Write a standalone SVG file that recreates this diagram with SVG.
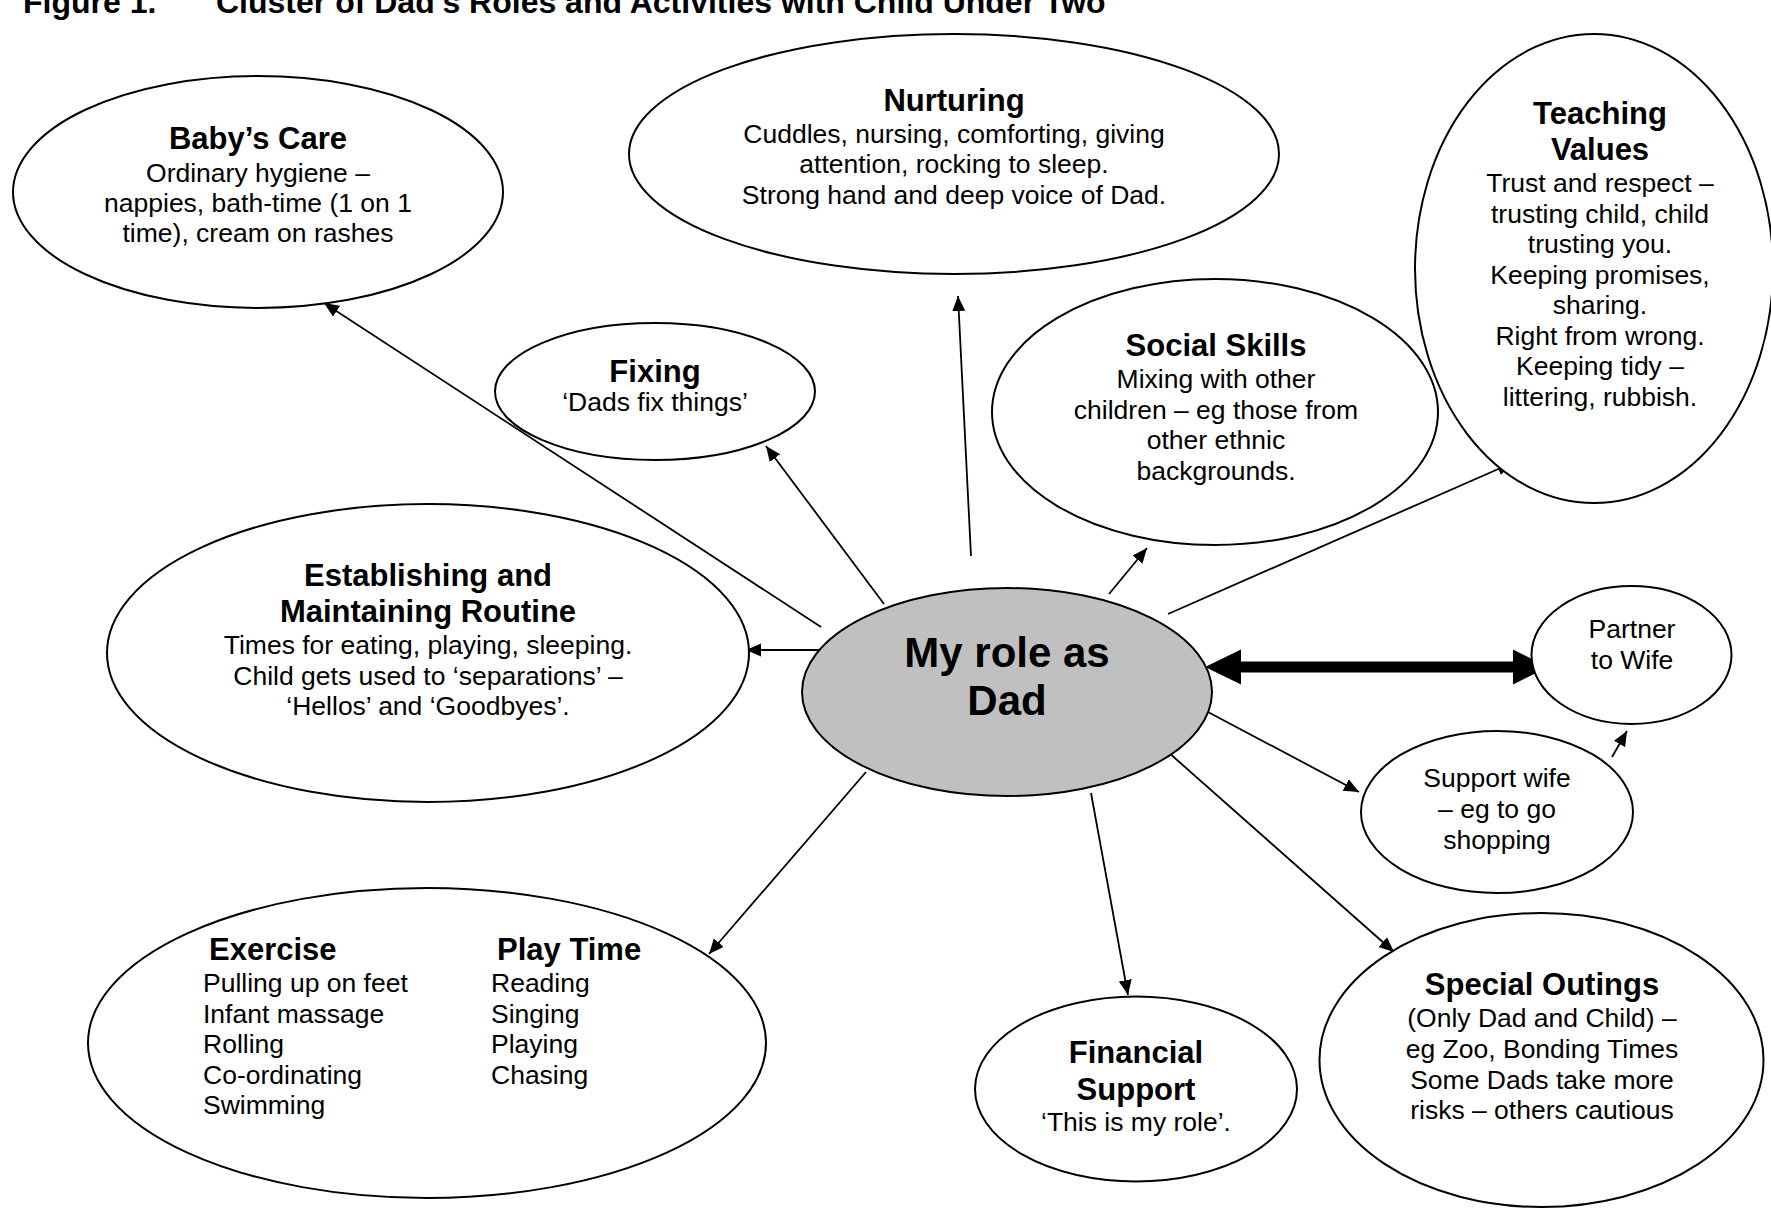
<svg xmlns="http://www.w3.org/2000/svg" width="1771" height="1212" viewBox="0 0 1771 1212">
<style>
  text { font-family: "Liberation Sans", Arial, sans-serif; fill: #000; }
  .t { font-size: 31px; font-weight: bold; text-anchor: middle; }
  .b { font-size: 26.5px; text-anchor: middle; }
  .bl { font-size: 26.5px; }
  .tl { font-size: 31px; font-weight: bold; }
  .node { fill: #fff; stroke: #000; stroke-width: 2; }
  .conn { stroke: #000; stroke-width: 1.8; fill: none; marker-end: url(#ah); }
</style>
<defs>
  <marker id="ah" markerUnits="userSpaceOnUse" markerWidth="16" markerHeight="14" refX="15" refY="6.5" orient="auto">
    <path d="M0,0 L15,6.5 L0,13 z" fill="#000"/>
  </marker>
</defs>
<rect width="1771" height="1212" fill="#fff"/>
<g id="title">
  <text class="tl" x="23" y="13" style="font-size:32px">Figure 1.</text>
  <text class="tl" x="216" y="13" style="font-size:32px">Cluster of Dad’s Roles and Activities with Child Under Two</text>
</g>
<g id="connectors">
  <line class="conn" x1="821" y1="627" x2="324" y2="303"/>
  <line class="conn" x1="884" y1="604" x2="766" y2="446"/>
  <line class="conn" x1="971" y1="556" x2="958" y2="296"/>
  <line class="conn" x1="1109" y1="594" x2="1147" y2="548"/>
  <line class="conn" x1="1168" y1="614" x2="1512" y2="463"/>
  <line class="conn" x1="821" y1="650" x2="746" y2="650"/>
  <line class="conn" x1="1208" y1="712" x2="1359" y2="792"/>
  <line class="conn" x1="1612" y1="757" x2="1627" y2="731"/>
  <line class="conn" x1="1168" y1="752" x2="1394" y2="952"/>
  <line class="conn" x1="1091" y1="793" x2="1128" y2="995"/>
  <line class="conn" x1="866" y1="772" x2="709" y2="954"/>
  <polygon points="1205,667 1241,649.5 1241,661.5 1513,661.5 1513,649.5 1548,667 1513,684.5 1513,672.5 1241,672.5 1241,684.5" fill="#000"/>
</g>
<g id="babys-care">
  <ellipse class="node" cx="258" cy="192" rx="245" ry="116"/>
  <text class="t" x="258" y="149">Baby’s Care</text>
  <text class="b" x="258" y="181.5">Ordinary hygiene –</text>
  <text class="b" x="258" y="212">nappies, bath-time (1 on 1</text>
  <text class="b" x="258" y="242">time), cream on rashes</text>
</g>
<g id="nurturing">
  <ellipse class="node" cx="954" cy="154" rx="325" ry="120"/>
  <text class="t" x="954" y="111">Nurturing</text>
  <text class="b" x="954" y="142.5">Cuddles, nursing, comforting, giving</text>
  <text class="b" x="954" y="173">attention, rocking to sleep.</text>
  <text class="b" x="954" y="203.5">Strong hand and deep voice of Dad.</text>
</g>
<g id="teaching-values">
  <ellipse class="node" cx="1594" cy="268.5" rx="179" ry="234.5"/>
  <text class="t" x="1600" y="124">Teaching</text>
  <text class="t" x="1600" y="160">Values</text>
  <text class="b" x="1600" y="192">Trust and respect –</text>
  <text class="b" x="1600" y="222.5">trusting child, child</text>
  <text class="b" x="1600" y="253">trusting you.</text>
  <text class="b" x="1600" y="283.5">Keeping promises,</text>
  <text class="b" x="1600" y="314">sharing.</text>
  <text class="b" x="1600" y="344.5">Right from wrong.</text>
  <text class="b" x="1600" y="375">Keeping tidy –</text>
  <text class="b" x="1600" y="405.5">littering, rubbish.</text>
</g>
<g id="social-skills">
  <ellipse class="node" cx="1215" cy="412" rx="223" ry="133"/>
  <text class="t" x="1216" y="356">Social Skills</text>
  <text class="b" x="1216" y="388">Mixing with other</text>
  <text class="b" x="1216" y="418.5">children – eg those from</text>
  <text class="b" x="1216" y="449">other ethnic</text>
  <text class="b" x="1216" y="479.5">backgrounds.</text>
</g>
<g id="fixing">
  <ellipse class="node" cx="655" cy="391.5" rx="160" ry="68.5"/>
  <text class="t" x="655" y="382">Fixing</text>
  <text class="b" x="655" y="411">‘Dads fix things’</text>
</g>
<g id="routine">
  <ellipse class="node" cx="428" cy="653" rx="321" ry="149"/>
  <text class="t" x="428" y="586">Establishing and</text>
  <text class="t" x="428" y="622">Maintaining Routine</text>
  <text class="b" x="428" y="654">Times for eating, playing, sleeping.</text>
  <text class="b" x="428" y="684.5">Child gets used to ‘separations’ –</text>
  <text class="b" x="428" y="715">‘Hellos’ and ‘Goodbyes’.</text>
</g>
<g id="dad">
  <ellipse cx="1007" cy="692" rx="205" ry="104" fill="#c0c0c0" stroke="#000" stroke-width="2"/>
  <text x="1007" y="666.5" font-size="42" font-weight="bold" text-anchor="middle">My role as</text>
  <text x="1007" y="715" font-size="42" font-weight="bold" text-anchor="middle">Dad</text>
</g>
<g id="partner">
  <ellipse class="node" cx="1631.5" cy="655" rx="100" ry="69"/>
  <text class="b" x="1632" y="638">Partner</text>
  <text class="b" x="1632" y="669">to Wife</text>
</g>
<g id="support-wife">
  <ellipse class="node" cx="1497" cy="812" rx="136" ry="81"/>
  <text class="b" x="1497" y="787">Support wife</text>
  <text class="b" x="1497" y="818">– eg to go</text>
  <text class="b" x="1497" y="849">shopping</text>
</g>
<g id="exercise-play">
  <ellipse class="node" cx="427" cy="1043" rx="339" ry="155"/>
  <text class="tl" x="209" y="960">Exercise</text>
  <text class="bl" x="203" y="992">Pulling up on feet</text>
  <text class="bl" x="203" y="1022.5">Infant massage</text>
  <text class="bl" x="203" y="1053">Rolling</text>
  <text class="bl" x="203" y="1083.5">Co-ordinating</text>
  <text class="bl" x="203" y="1114">Swimming</text>
  <text class="tl" x="497" y="960">Play Time</text>
  <text class="bl" x="491" y="992">Reading</text>
  <text class="bl" x="491" y="1022.5">Singing</text>
  <text class="bl" x="491" y="1053">Playing</text>
  <text class="bl" x="491" y="1083.5">Chasing</text>
</g>
<g id="financial">
  <ellipse class="node" cx="1136" cy="1089" rx="161" ry="92.5"/>
  <text class="t" x="1136" y="1062.5">Financial</text>
  <text class="t" x="1136" y="1099.5">Support</text>
  <text class="b" x="1136" y="1130.5">‘This is my role’.</text>
</g>
<g id="special-outings">
  <ellipse class="node" cx="1541.5" cy="1060" rx="222" ry="147"/>
  <text class="t" x="1542" y="994.5">Special Outings</text>
  <text class="b" x="1542" y="1027">(Only Dad and Child) –</text>
  <text class="b" x="1542" y="1058">eg Zoo, Bonding Times</text>
  <text class="b" x="1542" y="1088.5">Some Dads take more</text>
  <text class="b" x="1542" y="1119">risks – others cautious</text>
</g>
</svg>
